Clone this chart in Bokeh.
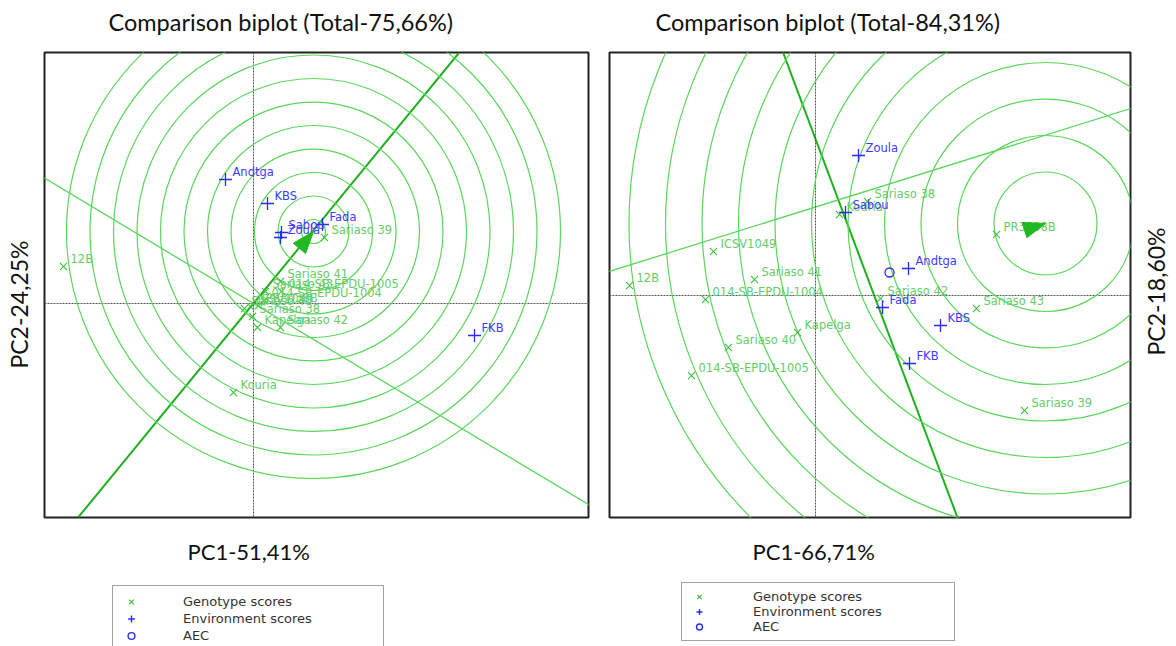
import math
from bokeh.plotting import figure
from bokeh.models import (Range1d, Span, Slope, Legend, LegendItem, Title,
                          ColumnDataSource)
from bokeh.layouts import row, column
from bokeh.embed import file_html
from bokeh.resources import INLINE
from bokeh.core.properties import value

# ---------------- data : left biplot ----------------
L_title = "Comparison biplot (Total-75,66%)"
L_xlabel = "PC1-51,41%"
L_ylabel = "PC2-24,25%"
L_gen_names = ["12B", "Sariaso 39", "Sariaso 41", "014-SB-EPDU-1005", "Sariaso 43",
               "014-SB-EPDU-1004", "Sariaso 40", "ICSV1049", "PR3038B", "Sariaso 38",
               "Kapelga", "Sariaso 42", "Kouria"]
L_gen_pc1 = [-3.80, 1.42, 0.54, 0.56, 0.24, 0.22, -0.18, -0.06, 0.10, -0.02, 0.08, 0.54, -0.40]
L_gen_pc2 = [0.74, 1.32, 0.44, 0.24, 0.24, 0.06, -0.10, -0.06, -0.04, -0.26, -0.48, -0.48, -1.78]
L_env_names = ["Andtga", "KBS", "Fada", "Sabou", "Zoula", "FKB"]
L_env_pc1 = [-0.56, 0.28, 1.38, 0.56, 0.54, 4.42]
L_env_pc2 = [2.48, 2.00, 1.58, 1.42, 1.32, -0.64]
L_aec_pc1 = []
L_aec_pc2 = []
L_ideal = [1.20, 1.44]
L_ring_radii = [0.24, 0.71, 1.18, 1.65, 2.12, 2.59, 3.06, 3.53, 4.00, 4.47, 4.94]
L_main_line = [1.22, 0.0]      # gradient, intercept (AEC axis)
L_second_line = [-0.60, 0.0]   # gradient, intercept
L_x_range = [-4.18, 6.70]
L_y_range = [-4.28, 5.02]

# ---------------- data : right biplot ----------------
R_title = "Comparison biplot (Total-84,31%)"
R_xlabel = "PC1-66,71%"
R_ylabel = "PC2-18,60%"
R_gen_names = ["12B", "ICSV1049", "Sariaso 41", "014-SB-EPDU-1004", "Sariaso 40",
               "014-SB-EPDU-1005", "Kapelga", "Kouria", "Sariaso 38", "Sariaso 42",
               "Sariaso 43", "Sariaso 39", "PR3038B"]
R_gen_pc1 = [-3.72, -2.04, -1.22, -2.20, -1.74, -2.48, -0.36, 0.48, 1.04, 1.30, 3.22, 4.18, 3.62]
R_gen_pc2 = [0.20, 0.88, 0.32, -0.08, -1.04, -1.60, -0.74, 1.62, 1.88, -0.06, -0.26, -2.30, 1.22]
R_env_names = ["Zoula", "Sabou", "Andtga", "Fada", "KBS", "FKB"]
R_env_pc1 = [0.86, 0.60, 1.86, 1.34, 2.50, 1.88]
R_env_pc2 = [2.80, 1.66, 0.54, -0.24, -0.60, -1.36]
R_aec_pc1 = [1.48]
R_aec_pc2 = [0.46]
R_ideal = [4.60, 1.44]
R_ring_radii = [1.03, 1.76, 2.49, 3.22, 3.95, 4.68, 5.41, 6.14, 6.87, 7.60, 8.33]
R_main_line = [-2.667, 3.13]
R_second_line = [0.3125, 1.77]
R_x_range = [-4.12, 6.30]
R_y_range = [-4.44, 4.86]

LEGEND_LABELS = ["Genotype scores", "Environment scores", "AEC"]

# ---------------- styles ----------------
RING = "#5ad65a"
AXLINE = "#1faf1f"
GEN_MK = "#3cbf3c"
GEN_TXT = "#66cc66"
ENV = "#2a2aff"
ENV_TXT = "#3b3bff"
FONT = "Lato"
LBL_FONT = value("DejaVu Sans")
TITLE_H = 40
TOP, BOTTOM = 12, 65
MAIN_H = 542
LEG_H = 64
PAGE_W = 1176


def arrow_head(ideal, length=0.44, width=0.32):
    x, y = ideal
    n = math.hypot(x, y)
    ux, uy = x / n, y / n
    bx, by = x - length * ux, y - length * uy
    nx, ny = -uy, ux
    return ([x, bx + width / 2 * nx, bx - width / 2 * nx],
            [y, by + width / 2 * ny, by - width / 2 * ny])


def bare(width, height, xr, yr, top=0, bottom=0, left=0, right=0):
    f = figure(width=width, height=height, x_range=Range1d(*xr), y_range=Range1d(*yr),
               output_backend="svg", toolbar_location=None,
               x_axis_location=None, y_axis_location=None,
               min_border_left=left, min_border_right=right, min_border_top=top,
               min_border_bottom=bottom)
    f.grid.visible = False
    f.outline_line_color = None
    return f


def make_plot(xlabel, gnames, gx, gy, enames, ex, ey, ax, ay, ideal,
              radii, main_line, second_line, xr, yr, width, borders):
    bl, br = borders
    p = bare(width, MAIN_H, xr, yr, TOP, BOTTOM, bl, br)
    p.outline_line_color = "#222222"
    p.outline_line_width = 2

    p.add_layout(Title(text=xlabel, align="left", offset=143, text_font=FONT,
                       text_font_size="22px", text_font_style="normal",
                       text_color="#111111", standoff=36), "below")

    # concentric circles around the ideal genotype
    p.circle(x=[ideal[0]] * len(radii), y=[ideal[1]] * len(radii), radius=radii,
             fill_color=None, line_color=RING, line_width=1.2)

    # biplot lines
    p.add_layout(Slope(gradient=main_line[0], y_intercept=main_line[1],
                       line_color=AXLINE, line_width=2.0, level="underlay"))
    p.add_layout(Slope(gradient=second_line[0], y_intercept=second_line[1],
                       line_color=RING, line_width=1.3, level="underlay"))

    # dotted axes through the origin
    for dim in ("width", "height"):
        p.add_layout(Span(location=0, dimension=dim, line_color="#555555",
                          line_dash="2 1", line_width=1, level="underlay"))

    gsrc = ColumnDataSource(dict(x=gx, y=gy, t=gnames))
    esrc = ColumnDataSource(dict(x=ex, y=ey, t=enames))
    asrc = ColumnDataSource(dict(x=ax, y=ay))

    p.scatter("x", "y", source=gsrc, marker="x", size=10, line_color=GEN_MK,
              line_width=1.1)
    p.text("x", "y", text="t", source=gsrc, x_offset=7, y_offset=-8,
           text_font=LBL_FONT, text_font_size="11.5px", text_color=GEN_TXT,
           text_baseline="middle", text_align="left")
    p.scatter("x", "y", source=esrc, marker="cross", size=13, line_color=ENV,
              line_width=1.3)
    p.text("x", "y", text="t", source=esrc, x_offset=7, y_offset=-8,
           text_font=LBL_FONT, text_font_size="11.5px", text_color=ENV_TXT,
           text_baseline="middle", text_align="left")
    p.scatter("x", "y", source=asrc, marker="circle", size=9, fill_color=None,
              line_color=ENV, line_width=1.3)

    hx, hy = arrow_head(ideal)
    p.patch(hx, hy, fill_color="#22b822", line_color="#22b822", line_width=1)
    return p


def side_label(text, width, fx, fy):
    """A narrow strip holding a vertical axis title (reads bottom-to-top)."""
    f = bare(width, MAIN_H, (0, 1), (0, 1), TOP, BOTTOM)
    f.text(x=[fx], y=[fy], text=[text], angle=math.pi / 2, text_align="center",
           text_baseline="middle", text_font=value(FONT), text_font_size="23px",
           text_color="#111111")
    return f


# ---------------- title strip ----------------
titles = bare(PAGE_W, TITLE_H, (0, PAGE_W), (0, TITLE_H))
titles.text(x=[108, 655], y=[19, 19], text=[L_title, R_title], text_align="left",
            text_baseline="middle", text_font=value(FONT), text_font_size="23.5px",
            text_color="#111111")

left = make_plot(L_xlabel, L_gen_names, L_gen_pc1, L_gen_pc2,
                 L_env_names, L_env_pc1, L_env_pc2, L_aec_pc1, L_aec_pc2, L_ideal,
                 L_ring_radii, L_main_line, L_second_line, L_x_range, L_y_range,
                 560, (4, 12))
right = make_plot(R_xlabel, R_gen_names, R_gen_pc1, R_gen_pc2,
                  R_env_names, R_env_pc1, R_env_pc2, R_aec_pc1, R_aec_pc2, R_ideal,
                  R_ring_radii, R_main_line, R_second_line, R_x_range, R_y_range,
                  532, (9, 2))
lab_left = side_label(L_ylabel, 40, 0.45, 0.458)
lab_right = side_label(R_ylabel, 44, 0.545, 0.486)

# ---------------- legend strip ----------------
leg = bare(PAGE_W, LEG_H, (0, 1), (0, 1))
# legend swatches only: their single point lies outside the strip's visible range
hidden_x, hidden_y = [-5.0], [-5.0]
g_r = leg.scatter(hidden_x, hidden_y, marker="x", size=10, line_color=GEN_MK, line_width=1.2)
e_r = leg.scatter(hidden_x, hidden_y, marker="cross", size=13, line_color=ENV, line_width=1.4)
a_r = leg.scatter(hidden_x, hidden_y, marker="circle", size=9, fill_color=None,
                  line_color=ENV, line_width=1.4)


def make_legend(loc, row_h, pad, standoff, label_w):
    return Legend(items=[LegendItem(label=LEGEND_LABELS[0], renderers=[g_r]),
                         LegendItem(label=LEGEND_LABELS[1], renderers=[e_r]),
                         LegendItem(label=LEGEND_LABELS[2], renderers=[a_r])],
                  location=loc, orientation="vertical",
                  label_text_font="DejaVu Sans", label_text_font_size="13px",
                  label_text_color="#333333", label_text_baseline="bottom",
                  glyph_width=22, glyph_height=row_h, label_height=row_h,
                  label_standoff=standoff, label_width=label_w, spacing=0,
                  padding=pad, margin=0, border_line_color="#444444",
                  border_line_width=1.5, background_fill_color="white",
                  background_fill_alpha=1.0)


leg.add_layout(make_legend((112, -6), 17, 7, 41, 193))
leg.add_layout(make_legend((681, 5), 15, 6, 43, 195))

layout = column(titles, row(lab_left, left, right, lab_right, spacing=0), leg, spacing=0)
open("out.html", "w").write(file_html(layout, INLINE))
